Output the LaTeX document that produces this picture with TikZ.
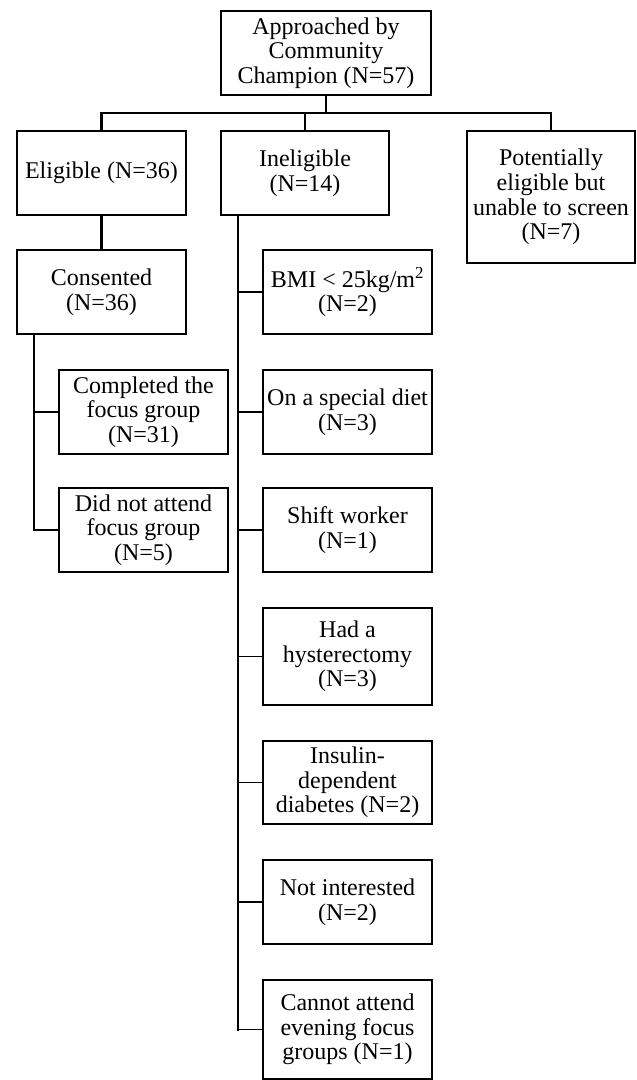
\documentclass[tikz,border=0pt]{standalone}
\usepackage{fontspec}
\setmainfont{Liberation Serif}
\begin{document}
\begin{tikzpicture}[x=1pt,y=-1pt,
  box/.style={draw, line width=1.5pt, inner sep=0pt, align=center,
    font=\fontsize{24}{24.6}\selectfont},
  colbox/.style={box, minimum width=169pt},
  vline/.style={line width=2.3pt, line cap=rect},
  hline/.style={line width=1.5pt}]
\useasboundingbox[fill=white] (0,0) rectangle (637,1080);
% top row
\node[box, minimum width=210pt, minimum height=84pt] (top) at (326,53)
  {Approached by\\Community\\Champion (N=57)};
\node[colbox, minimum height=84pt] (elig) at (101.5,173) {Eligible (N=36)};
\node[box, minimum width=168pt, minimum height=84pt] (inel) at (305,173) {Ineligible\\(N=14)};
\node[box, minimum width=168pt, minimum height=132pt] (pot) at (551,197)
  {Potentially\\eligible but\\unable to screen\\(N=7)};
% eligible branch
\node[colbox, minimum height=84pt] (cons) at (101.5,292) {Consented\\(N=36)};
\node[colbox, minimum height=84pt] (comp) at (143.5,412) {Completed the\\focus group\\(N=31)};
\node[colbox, minimum height=84pt] (dna) at (143.5,530) {Did not attend\\focus group\\(N=5)};
% ineligible branch
\node[colbox, minimum height=84pt] (bmi) at (347.5,292) {BMI {<} 25kg/m\textsuperscript{2}\\(N=2)};
\node[colbox, minimum height=84pt] (diet) at (347.5,412) {On a special diet\\(N=3)};
\node[colbox, minimum height=84pt] (shift) at (347.5,530) {Shift worker\\(N=1)};
\node[colbox, minimum height=97pt] (hyst) at (347.5,656.5) {Had a\\hysterectomy\\(N=3)};
\node[colbox, minimum height=83pt] (ins) at (347.5,782.5) {Insulin-\\dependent\\diabetes (N=2)};
\node[colbox, minimum height=84pt] (noti) at (347.5,902) {Not interested\\(N=2)};
\node[colbox, minimum height=99pt] (cann) at (347.5,1029.5) {Cannot attend\\evening focus\\groups (N=1)};
% connectors: top level
\coordinate (hl) at (0,113);
\draw[vline] (top.south) -- (top.south |- hl);
\draw[hline] (elig.north |- hl) -- (pot.north |- hl);
\draw[vline] (elig.north |- hl) -- (elig.north);
\draw[vline] (inel.north |- hl) -- (inel.north);
\draw[vline] (pot.north |- hl) -- (pot.north);
% eligible branch
\draw[vline] (elig.south) -- (cons.north);
\coordinate (cs) at (34,334);
\draw[vline] (cs) -- (cs |- dna.west);
\draw[hline] (cs |- comp.west) -- (comp.west);
\draw[hline] (cs |- dna.west) -- (dna.west);
% ineligible branch
\coordinate (is) at (238,215);
\draw[vline] (is) -- (is |- cann.west);
\foreach \n in {bmi,diet,shift,hyst,ins,noti,cann}
  \draw[hline] (is |- \n.west) -- (\n.west);
\end{tikzpicture}
\end{document}
